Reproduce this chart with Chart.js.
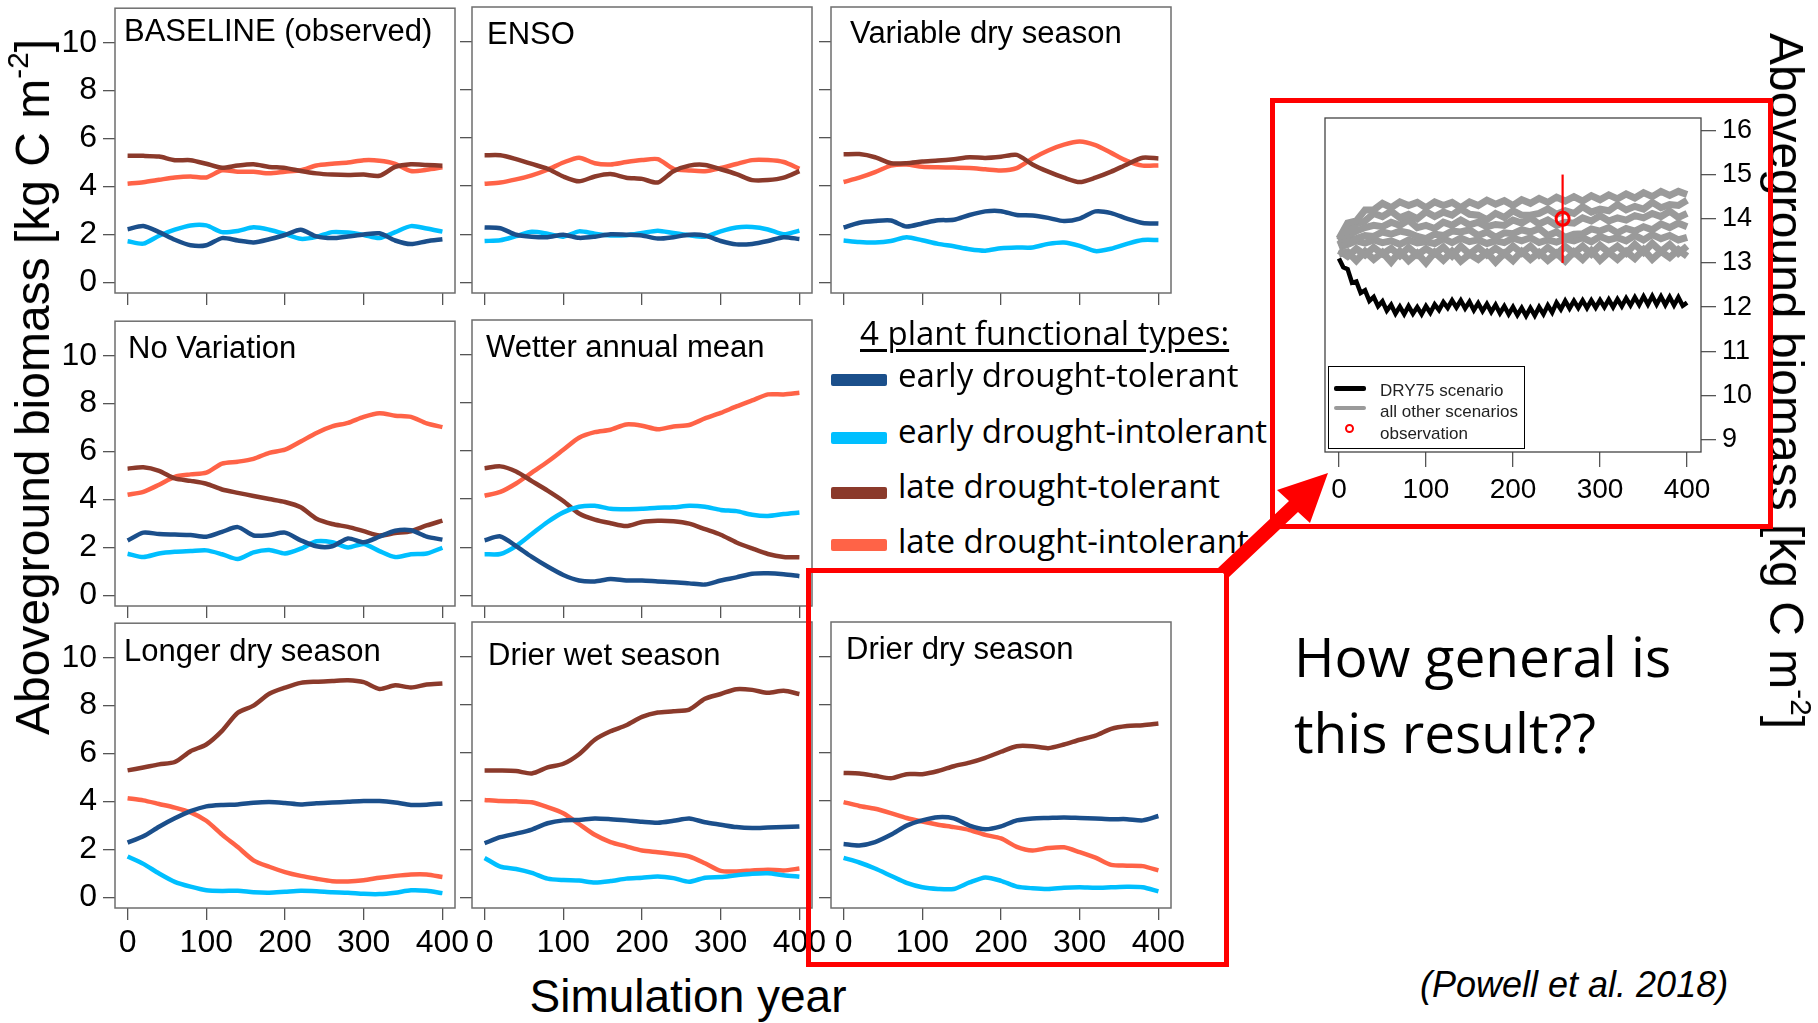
<!DOCTYPE html>
<html>
<head>
<meta charset="utf-8">
<title>Aboveground biomass by climate scenario</title>
<script src="https://cdn.jsdelivr.net/npm/chart.js"></script>
<style>
  html, body { margin: 0; padding: 0; background: #fff; }
  #page { position: relative; width: 1818px; height: 1023px; overflow: hidden;
          font-family: 'Liberation Sans', Arial, Helvetica, sans-serif; color: #000; }
  canvas { position: absolute; }
  .txt { position: absolute; white-space: nowrap; line-height: 1; }
  .calib { font-family: 'Open Sans', 'Noto Sans', sans-serif; }
  .vtitle { position: absolute; white-space: nowrap; line-height: 1; font-size: 48px; }
  .vtitle sup { font-size: 0.62em; vertical-align: 0; position: relative; top: -0.72em; }
  .swatch { position: absolute; left: 831px; width: 56px; height: 12px; border-radius: 2px; }
  .redbox { position: absolute; box-sizing: border-box; border: 5px solid #ff0000; }
  #insetLegend { position: absolute; left: 1328px; top: 366px; width: 197px; height: 83px;
                 box-sizing: border-box; border: 1.5px solid #000; background: #fff; }
  #insetLegend .k { position: absolute; left: 5px; width: 32px; }
  #insetLegend .t { position: absolute; left: 51px; font-size: 17px; line-height: 1; white-space: nowrap; color: #222; }
</style>
</head>
<body>
<div id="page">
  <div class="vtitle" style="left:33px; top:387px; transform:translate(-50%,-50%) rotate(-90deg);">Aboveground biomass [kg C m<sup>-2</sup>]</div>
  <div class="vtitle" style="left:1786px; top:381px; transform:translate(-50%,-50%) rotate(90deg);">Aboveground biomass [kg C m<sup>-2</sup>]</div>
  <div class="txt" style="left:688px; top:973px; font-size:46px; transform:translateX(-50%);">Simulation year</div>

  <div class="txt calib" style="left:860px; top:316px; font-size:33px; text-decoration:underline; text-underline-offset:4px;">4 plant functional types:</div>
  <div class="swatch" style="top:374px; background:#1b4f8b;"></div>
  <div class="swatch" style="top:432px; background:#00bfff;"></div>
  <div class="swatch" style="top:487px; background:#8b3a2b;"></div>
  <div class="swatch" style="top:539px; background:#ff6347;"></div>
  <div class="txt calib" style="left:898px; top:358px; font-size:33px;">early drought-tolerant</div>
  <div class="txt calib" style="left:898px; top:414px; font-size:33px;">early drought-intolerant</div>
  <div class="txt calib" style="left:898px; top:469px; font-size:33px;">late drought-tolerant</div>
  <div class="txt calib" style="left:898px; top:524px; font-size:33px;">late drought-intolerant</div>

  <div class="calib" style="position:absolute; left:1294px; top:618px; font-size:55px; line-height:76px; white-space:nowrap;">How general is<br>this result??</div>
  <div class="txt" style="left:1420px; top:967px; font-size:36px; font-style:italic;">(Powell et al. 2018)</div>
</div>

<script>
'use strict';
// simulation years sampled every 20 yr
const years = [0, 20, 40, 60, 80, 100, 120, 140, 160, 180, 200, 220, 240, 260, 280, 300, 320, 340, 360, 380, 400];

// biomass per plant functional type [kg C m-2]
// edt = early drought-tolerant, edi = early drought-intolerant,
// ldt = late drought-tolerant, ldi = late drought-intolerant
const baseEdt = [2.22, 2.35, 2.1, 1.78, 1.55, 1.55, 1.85, 1.75, 1.67, 1.8, 1.98, 2.2, 1.92, 1.85, 1.92, 2.0, 2.05, 1.75, 1.6, 1.72, 1.8];
const baseEdi = [1.72, 1.62, 1.95, 2.2, 2.38, 2.38, 2.1, 2.15, 2.3, 2.2, 2.02, 1.82, 1.9, 2.1, 2.08, 1.98, 1.85, 2.1, 2.35, 2.25, 2.12];
const baseLdt = [5.28, 5.28, 5.25, 5.1, 5.1, 4.95, 4.78, 4.88, 4.93, 4.82, 4.78, 4.65, 4.55, 4.5, 4.48, 4.5, 4.45, 4.82, 4.93, 4.9, 4.87];
const baseLdi = [4.12, 4.18, 4.28, 4.38, 4.42, 4.38, 4.68, 4.62, 4.62, 4.55, 4.62, 4.68, 4.88, 4.95, 5.0, 5.1, 5.08, 4.95, 4.65, 4.7, 4.8];

const ensoEdt = [2.28, 2.25, 1.98, 1.9, 1.88, 1.98, 1.85, 1.9, 2.0, 1.98, 1.95, 1.82, 1.88, 1.98, 1.95, 1.72, 1.58, 1.6, 1.72, 1.88, 1.8];
const ensoEdi = [1.72, 1.75, 1.92, 2.1, 2.02, 1.9, 2.12, 2.02, 1.95, 1.96, 2.05, 2.15, 2.05, 1.96, 1.9, 2.12, 2.28, 2.3, 2.2, 2.0, 2.15];
const ensoLdt = [5.28, 5.28, 5.12, 4.92, 4.72, 4.4, 4.2, 4.4, 4.5, 4.35, 4.3, 4.15, 4.62, 4.85, 4.88, 4.7, 4.5, 4.25, 4.25, 4.35, 4.62];
const ensoLdi = [4.1, 4.15, 4.28, 4.45, 4.68, 4.98, 5.18, 4.95, 4.9, 5.0, 5.08, 5.12, 4.72, 4.65, 4.62, 4.75, 4.92, 5.08, 5.08, 5.0, 4.72];

const varEdt = [2.28, 2.48, 2.55, 2.57, 2.32, 2.45, 2.58, 2.6, 2.8, 2.95, 2.96, 2.8, 2.78, 2.68, 2.55, 2.65, 2.95, 2.88, 2.65, 2.47, 2.45];
const varEdi = [1.74, 1.68, 1.66, 1.72, 1.88, 1.75, 1.6, 1.5, 1.38, 1.32, 1.42, 1.45, 1.45, 1.6, 1.66, 1.52, 1.3, 1.4, 1.6, 1.76, 1.76];
const varLdt = [5.32, 5.33, 5.2, 4.95, 4.95, 5.02, 5.06, 5.12, 5.2, 5.17, 5.22, 5.3, 4.9, 4.6, 4.35, 4.17, 4.35, 4.6, 4.9, 5.18, 5.15];
const varLdi = [4.17, 4.35, 4.58, 4.85, 4.9, 4.8, 4.78, 4.77, 4.75, 4.7, 4.65, 4.75, 5.15, 5.48, 5.72, 5.85, 5.7, 5.38, 5.05, 4.85, 4.86];

const noVarEdt = [2.29, 2.62, 2.56, 2.54, 2.52, 2.45, 2.65, 2.85, 2.5, 2.52, 2.62, 2.3, 2.05, 2.05, 2.38, 2.22, 2.45, 2.7, 2.72, 2.45, 2.33];
const noVarEdi = [1.74, 1.6, 1.75, 1.82, 1.85, 1.88, 1.72, 1.52, 1.8, 1.9, 1.75, 1.95, 2.26, 2.22, 2.0, 2.15, 1.85, 1.6, 1.72, 1.75, 1.99];
const noVarLdt = [5.29, 5.35, 5.2, 4.88, 4.78, 4.66, 4.42, 4.28, 4.15, 4.02, 3.9, 3.68, 3.2, 2.98, 2.86, 2.68, 2.5, 2.6, 2.68, 2.92, 3.12];
const noVarLdi = [4.2, 4.32, 4.62, 4.95, 5.05, 5.12, 5.5, 5.58, 5.7, 5.95, 6.08, 6.42, 6.78, 7.05, 7.2, 7.45, 7.6, 7.5, 7.45, 7.18, 7.02];

const wetEdt = [2.29, 2.45, 2.05, 1.6, 1.2, 0.85, 0.62, 0.58, 0.68, 0.62, 0.62, 0.58, 0.55, 0.5, 0.45, 0.62, 0.75, 0.9, 0.92, 0.88, 0.8];
const wetEdi = [1.71, 1.72, 2.05, 2.55, 3.05, 3.45, 3.68, 3.72, 3.6, 3.58, 3.6, 3.64, 3.66, 3.72, 3.68, 3.55, 3.5, 3.35, 3.3, 3.38, 3.44];
const wetLdt = [5.28, 5.36, 5.15, 4.75, 4.35, 3.92, 3.4, 3.15, 3.0, 2.88, 3.05, 3.1, 3.08, 2.98, 2.75, 2.52, 2.2, 1.95, 1.72, 1.6, 1.58];
const wetLdi = [4.14, 4.3, 4.65, 5.1, 5.55, 6.05, 6.55, 6.78, 6.88, 7.1, 7.05, 6.9, 7.02, 7.08, 7.35, 7.58, 7.85, 8.1, 8.35, 8.35, 8.42];

const longEdt = [2.29, 2.55, 2.95, 3.3, 3.6, 3.8, 3.86, 3.88, 3.95, 3.98, 3.94, 3.88, 3.93, 3.96, 3.99, 4.02, 4.02, 3.96, 3.86, 3.87, 3.92];
const longEdi = [1.71, 1.4, 1.0, 0.65, 0.45, 0.3, 0.27, 0.28, 0.22, 0.2, 0.24, 0.28, 0.26, 0.22, 0.2, 0.15, 0.14, 0.2, 0.3, 0.28, 0.18];
const longLdt = [5.3, 5.42, 5.55, 5.65, 6.1, 6.38, 6.95, 7.7, 8.0, 8.5, 8.75, 8.95, 9.0, 9.03, 9.06, 8.98, 8.7, 8.85, 8.76, 8.88, 8.92];
const longLdi = [4.14, 4.05, 3.9, 3.75, 3.55, 3.2, 2.62, 2.1, 1.55, 1.28, 1.06, 0.9, 0.78, 0.68, 0.67, 0.72, 0.82, 0.9, 0.96, 0.96, 0.85];

const dryWetEdt = [2.25, 2.5, 2.65, 2.82, 3.08, 3.2, 3.22, 3.28, 3.25, 3.2, 3.14, 3.1, 3.18, 3.28, 3.12, 3.02, 2.92, 2.88, 2.9, 2.92, 2.95];
const dryWetEdi = [1.64, 1.28, 1.18, 1.02, 0.78, 0.72, 0.7, 0.62, 0.68, 0.78, 0.82, 0.87, 0.8, 0.65, 0.82, 0.85, 0.92, 0.98, 1.0, 0.92, 0.86];
const dryWetLdt = [5.27, 5.27, 5.25, 5.15, 5.4, 5.55, 5.95, 6.55, 6.9, 7.15, 7.5, 7.68, 7.73, 7.8, 8.25, 8.45, 8.65, 8.62, 8.5, 8.58, 8.45];
const dryWetLdi = [4.05, 4.0, 3.99, 3.95, 3.75, 3.5, 3.05, 2.6, 2.3, 2.12, 1.95, 1.88, 1.8, 1.7, 1.42, 1.1, 1.08, 1.12, 1.15, 1.12, 1.2];

const dryDryEdt = [2.22, 2.16, 2.3, 2.6, 2.98, 3.2, 3.33, 3.28, 2.98, 2.83, 2.95, 3.2, 3.28, 3.3, 3.32, 3.3, 3.28, 3.25, 3.25, 3.2, 3.38];
const dryDryEdi = [1.64, 1.45, 1.2, 0.9, 0.6, 0.42, 0.35, 0.35, 0.62, 0.83, 0.69, 0.45, 0.38, 0.35, 0.4, 0.42, 0.4, 0.42, 0.44, 0.42, 0.25];
const dryDryLdt = [5.17, 5.15, 5.05, 4.95, 5.12, 5.12, 5.25, 5.45, 5.6, 5.8, 6.05, 6.28, 6.28, 6.2, 6.35, 6.55, 6.72, 7.0, 7.12, 7.15, 7.22];
const dryDryLdi = [3.96, 3.8, 3.68, 3.5, 3.3, 3.15, 3.02, 2.92, 2.8, 2.6, 2.45, 2.1, 1.95, 2.05, 2.08, 1.88, 1.65, 1.35, 1.32, 1.3, 1.12];

const pftNames = ['early drought-tolerant', 'early drought-intolerant', 'late drought-tolerant', 'late drought-intolerant'];
const pftColors = ['#1b4f8b', '#00bfff', '#8b3a2b', '#ff6347'];
const xTicks = [0, 100, 200, 300, 400];
const yTicks = [0, 2, 4, 6, 8, 10];

// total biomass, DRY75 vs the other scenarios (inset)
const dry75 = [13.10, 12.90, 12.86, 12.55, 12.58, 12.32, 12.38, 12.14, 12.23, 12.02,
  12.13, 11.92, 12.05, 11.85, 12.01, 11.84, 12.02, 11.85, 12.0, 11.84,
  12.02, 11.87, 12.06, 11.93, 12.11, 11.98, 12.15, 11.99, 12.15, 11.97,
  12.12, 11.93, 12.09, 11.91, 12.07, 11.89, 12.05, 11.86, 12.02, 11.84,
  12.0, 11.82, 11.98, 11.8, 11.98, 11.81, 12.0, 11.84, 12.04, 11.88,
  12.1, 11.95, 12.14, 11.97, 12.14, 11.98, 12.15, 11.98, 12.15, 11.99,
  12.16, 12.0, 12.17, 12.0, 12.18, 12.02, 12.2, 12.04, 12.22, 12.05,
  12.24, 12.06, 12.25, 12.06, 12.24, 12.05, 12.23, 12.04, 12.22, 12.03, 12.1];
const other1 = [13.55, 13.9, 13.95, 14.2, 14.2, 14.35, 14.25, 14.38, 14.3, 14.37, 14.25, 14.38, 14.3, 14.37, 14.25, 14.38, 14.3, 14.42, 14.33, 14.41, 14.3, 14.43, 14.35, 14.46, 14.37, 14.49, 14.4, 14.5, 14.4, 14.52, 14.43, 14.54, 14.45, 14.56, 14.47, 14.59, 14.5, 14.62, 14.53, 14.62, 14.55];
const other2 = [13.5, 13.7, 13.88, 13.95, 14.12, 14.05, 14.17, 14.02, 14.1, 14.0, 14.16, 14.05, 14.15, 14.08, 14.22, 14.1, 14.08, 13.98, 14.12, 14.03, 14.18, 14.08, 14.08, 14.12, 14.22, 14.1, 14.18, 14.12, 14.27, 14.15, 14.22, 14.18, 14.32, 14.2, 14.28, 14.22, 14.37, 14.25, 14.32, 14.3, 14.42];
const other3 = [13.42, 13.62, 13.72, 13.8, 13.85, 13.82, 13.92, 13.85, 13.97, 13.8, 13.85, 13.78, 13.92, 13.85, 13.97, 13.86, 13.92, 13.82, 13.87, 13.85, 13.97, 13.9, 14.02, 13.88, 13.97, 13.85, 13.92, 13.9, 14.02, 13.95, 14.07, 13.95, 14.02, 13.97, 14.07, 14.02, 14.12, 14.05, 14.17, 14.03, 14.12];
const other4 = [13.38, 13.5, 13.55, 13.62, 13.6, 13.7, 13.65, 13.72, 13.68, 13.6, 13.55, 13.65, 13.62, 13.72, 13.7, 13.75, 13.62, 13.7, 13.58, 13.68, 13.66, 13.75, 13.7, 13.78, 13.62, 13.7, 13.58, 13.65, 13.66, 13.77, 13.72, 13.8, 13.68, 13.78, 13.72, 13.82, 13.75, 13.88, 13.8, 13.9, 13.82];
const other5 = [13.35, 13.42, 13.5, 13.45, 13.52, 13.46, 13.5, 13.42, 13.52, 13.45, 13.48, 13.44, 13.55, 13.46, 13.56, 13.48, 13.52, 13.44, 13.5, 13.46, 13.56, 13.5, 13.57, 13.46, 13.52, 13.47, 13.54, 13.5, 13.57, 13.48, 13.6, 13.52, 13.57, 13.5, 13.62, 13.52, 13.64, 13.55, 13.62, 13.52, 13.58];
const other6 = [13.28, 13.15, 13.32, 13.18, 13.35, 13.2, 13.33, 13.16, 13.35, 13.18, 13.32, 13.2, 13.36, 13.16, 13.38, 13.2, 13.35, 13.18, 13.33, 13.2, 13.38, 13.22, 13.38, 13.18, 13.35, 13.2, 13.37, 13.22, 13.38, 13.2, 13.4, 13.24, 13.38, 13.22, 13.42, 13.24, 13.44, 13.26, 13.42, 13.22, 13.38];
const other7 = [13.2, 13.25, 13.05, 13.26, 13.08, 13.24, 13.02, 13.26, 13.05, 13.22, 13.0, 13.24, 13.06, 13.26, 13.04, 13.2, 13.08, 13.24, 13.02, 13.22, 13.05, 13.26, 13.08, 13.24, 13.06, 13.22, 13.04, 13.25, 13.08, 13.28, 13.06, 13.24, 13.08, 13.26, 13.1, 13.3, 13.08, 13.26, 13.12, 13.3, 13.15];
const obsYear = 257, obsValue = 14.0, obsLow = 13.0, obsHigh = 15.0;
const insetXTicks = [0, 100, 200, 300, 400];
const insetYTicks = [9, 10, 11, 12, 13, 14, 15, 16];

const FONT = "'Liberation Sans', Arial, Helvetica, sans-serif";
const page = document.getElementById('page');

function range(a, b, step) {
  const out = [];
  for (let v = a; v <= b; v += step) out.push(v);
  return out;
}
function pts(xs, ys) { return ys.map((y, i) => ({x: xs[i], y: y})); }

// outline round the plotting region, R box() style
const frameBox = {
  id: 'frameBox',
  afterDraw(chart, args, opts) {
    const {ctx, chartArea: a} = chart;
    ctx.save();
    ctx.strokeStyle = opts.color;
    ctx.lineWidth = opts.width;
    ctx.strokeRect(a.left, a.top, a.right - a.left, a.bottom - a.top);
    ctx.restore();
  }
};
// scenario name inside the top-left corner
const panelTitle = {
  id: 'panelTitle',
  afterDraw(chart, args, opts) {
    if (!opts.text) return;
    const {ctx, chartArea: a} = chart;
    ctx.save();
    ctx.font = '31px ' + FONT;
    ctx.fillStyle = '#000';
    ctx.textBaseline = 'alphabetic';
    ctx.fillText(opts.text, a.left + opts.dx, a.top + opts.dy);
    ctx.restore();
  }
};

function addCanvas(left, top, w, h) {
  const cv = document.createElement('canvas');
  cv.width = w; cv.height = h;
  cv.style.left = left + 'px';
  cv.style.top = top + 'px';
  page.insertBefore(cv, page.firstChild);
  return cv;
}

function axis(o) {
  return {
    type: 'linear', position: o.position, min: o.min, max: o.max,
    afterBuildTicks: s => { s.ticks = o.ticks.map(v => ({value: v})); },
    afterFit: s => { if (o.size.w) s.width = o.size.w; if (o.size.h) s.height = o.size.h; },
    border: {display: false},
    grid: {drawOnChartArea: false, drawTicks: true, tickLength: o.tick, color: '#555', lineWidth: 1.3},
    ticks: {display: o.labels, autoSkip: false, maxRotation: 0, padding: o.pad, color: '#000',
            font: {family: FONT, size: o.font}}
  };
}

// ---- small multiples ----
// top margin leaves room for the half-height of the "10" label so the plot area is not pushed down
const M = {l: 70, t: 24, r: 26, b: 60};
const panels = [
  {title: 'BASELINE (observed)', s: [baseEdt, baseEdi, baseLdt, baseLdi], x: 115, y: 7, tx: 9, ty: 33, yl: true, xl: false},
  {title: 'ENSO', s: [ensoEdt, ensoEdi, ensoLdt, ensoLdi], x: 472, y: 7, tx: 15, ty: 37, yl: false, xl: false},
  {title: 'Variable dry season', s: [varEdt, varEdi, varLdt, varLdi], x: 831, y: 7, tx: 19, ty: 36, yl: false, xl: false},
  {title: 'No Variation', s: [noVarEdt, noVarEdi, noVarLdt, noVarLdi], x: 115, y: 320, tx: 13, ty: 37, yl: true, xl: false},
  {title: 'Wetter annual mean', s: [wetEdt, wetEdi, wetLdt, wetLdi], x: 472, y: 320, tx: 14, ty: 37, yl: false, xl: false},
  {title: 'Longer dry season', s: [longEdt, longEdi, longLdt, longLdi], x: 115, y: 622, tx: 9, ty: 38, yl: true, xl: true},
  {title: 'Drier wet season', s: [dryWetEdt, dryWetEdi, dryWetLdt, dryWetLdi], x: 472, y: 622, tx: 16, ty: 43, yl: false, xl: true},
  {title: 'Drier dry season', s: [dryDryEdt, dryDryEdi, dryDryLdt, dryDryLdi], x: 831, y: 622, tx: 15, ty: 37, yl: false, xl: true}
];

panels.forEach(p => {
  const w = 340, h = 286;
  const cv = addCanvas(p.x - M.l, p.y - M.t, w + M.l + M.r, h + M.t + M.b);
  new Chart(cv.getContext('2d'), {
    type: 'line',
    data: {
      datasets: p.s.map((vals, i) => ({
        label: pftNames[i], data: pts(years, vals), borderColor: pftColors[i],
        borderWidth: 4.5, pointRadius: 0, tension: 0.25, fill: false
      }))
    },
    options: {
      responsive: false, animation: false, events: [],
      layout: {padding: {left: 0, top: M.t, right: M.r, bottom: 0}},
      plugins: {
        legend: {display: false}, tooltip: {enabled: false},
        frameBox: {color: '#6e6e6e', width: 1.5},
        panelTitle: {text: p.title, dx: p.tx, dy: p.ty}
      },
      scales: {
        x: axis({position: 'bottom', min: -16, max: 416, ticks: xTicks, size: {h: M.b}, tick: 12, labels: p.xl, pad: 4, font: 32}),
        y: axis({position: 'left', min: -0.44, max: 11.44, ticks: yTicks, size: {w: M.l}, tick: 12, labels: p.yl, pad: 6, font: 32})
      }
    },
    plugins: [frameBox, panelTitle]
  });
});

// ---- inset: total biomass ----
const IM = {l: 10, t: 24, r: 72, b: 62};
const insetCv = addCanvas(1325 - IM.l, 118 - IM.t, 376 + IM.l + IM.r, 334 + IM.t + IM.b);
const years10 = range(0, 400, 10);
const years5 = range(0, 400, 5);
const grayRuns = [other1, other2, other3, other4, other5, other6, other7];

new Chart(insetCv.getContext('2d'), {
  type: 'line',
  data: {
    datasets: [
      {label: 'observation', data: [{x: obsYear, y: obsValue}], showLine: false, pointRadius: 6.5,
       pointBorderWidth: 3, pointBorderColor: '#ff0000', pointBackgroundColor: 'rgba(0,0,0,0)'},
      {label: 'observation range', data: [{x: obsYear, y: obsLow}, {x: obsYear, y: obsHigh}],
       borderColor: '#ff0000', borderWidth: 2.2, pointRadius: 0},
      {label: 'DRY75 scenario', data: pts(years5, dry75), borderColor: '#000', borderWidth: 4.5, pointRadius: 0, tension: 0}
    ].concat(grayRuns.map((r, i) => ({
      label: 'scenario ' + (i + 1), data: pts(years10, r), borderColor: '#9a9a9a',
      borderWidth: 7, pointRadius: 0, tension: 0
    })))
  },
  options: {
    responsive: false, animation: false, events: [],
    layout: {padding: {left: IM.l, top: IM.t, right: 0, bottom: 0}},
    plugins: {legend: {display: false}, tooltip: {enabled: false}, frameBox: {color: '#444', width: 1.3}},
    scales: {
      x: axis({position: 'bottom', min: -16, max: 416, ticks: insetXTicks, size: {h: IM.b}, tick: 15, labels: true, pad: 6, font: 28}),
      y: axis({position: 'right', min: 8.72, max: 16.28, ticks: insetYTicks, size: {w: IM.r}, tick: 15, labels: true, pad: 6, font: 27})
    }
  },
  plugins: [frameBox]
});

// inset key
const key = document.createElement('div');
key.id = 'insetLegend';
key.innerHTML =
  '<div class="k" style="top:19px;height:5px;background:#000;border-radius:2px"></div>' +
  '<div class="t" style="top:15px">DRY75 scenario</div>' +
  '<div class="k" style="top:39px;height:4px;background:#9a9a9a;border-radius:2px"></div>' +
  '<div class="t" style="top:36px">all other scenarios</div>' +
  '<div style="position:absolute;left:16px;top:57px;width:5px;height:5px;border:2.5px solid #ff0000;border-radius:50%"></div>' +
  '<div class="t" style="top:58px">observation</div>';
page.appendChild(key);

// red call-out boxes and arrow
function redBox(l, t, w, h) {
  const d = document.createElement('div');
  d.className = 'redbox';
  Object.assign(d.style, {left: l + 'px', top: t + 'px', width: w + 'px', height: h + 'px'});
  page.appendChild(d);
}
redBox(1270, 98, 503, 431);
redBox(806, 568, 423, 399);

const svgNS = 'http://www.w3.org/2000/svg';
const svg = document.createElementNS(svgNS, 'svg');
svg.setAttribute('width', '1818');
svg.setAttribute('height', '1023');
svg.style.position = 'absolute';
svg.style.left = '0';
svg.style.top = '0';
const arrow = document.createElementNS(svgNS, 'polygon');
arrow.setAttribute('points', '1218,568 1289,501 1277,490 1328,473 1310,523 1298,512 1228,578');
arrow.setAttribute('fill', '#ff0000');
svg.appendChild(arrow);
page.appendChild(svg);
</script>
</body>
</html>
